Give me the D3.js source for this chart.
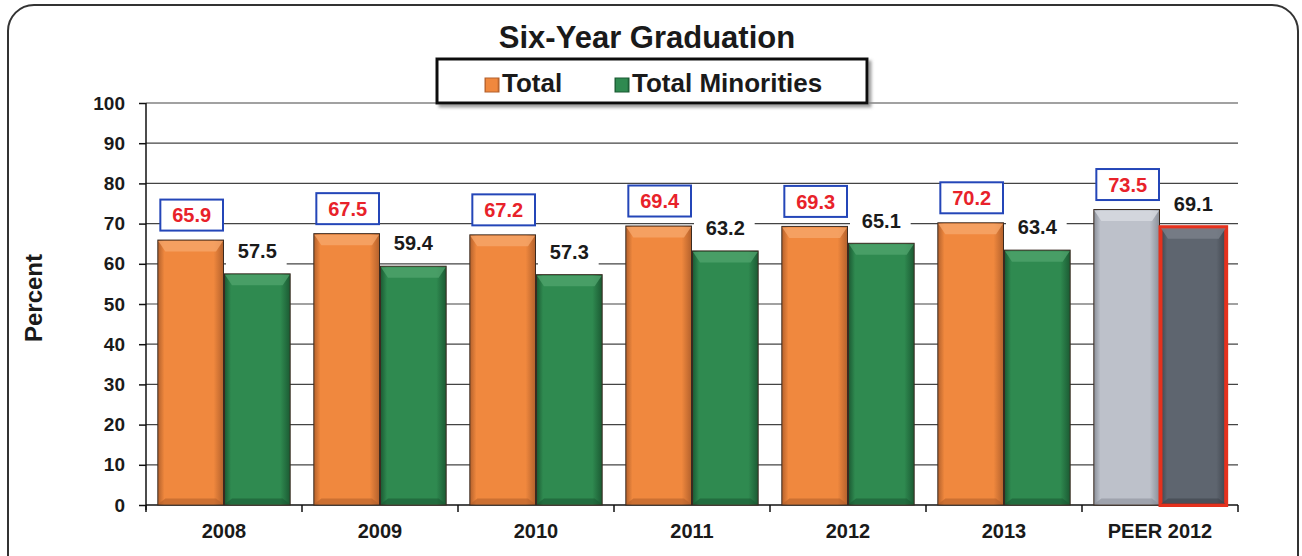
<!DOCTYPE html>
<html lang="en">
<head>
<meta charset="utf-8">
<title>Six-Year Graduation</title>
<script src="https://d3js.org/d3.v7.min.js"></script>
<style>
  body { margin: 0; background: #fff; }
  text { font-family: "Liberation Sans", Arial, sans-serif; font-weight: bold; }
</style>
</head>
<body>
<script>
// data
var years = ["2008", "2009", "2010", "2011", "2012", "2013", "PEER 2012"];
var total = [65.9, 67.5, 67.2, 69.4, 69.3, 70.2, 73.5];
var minorities = [57.5, 59.4, 57.3, 63.2, 65.1, 63.4, 69.1];
var yTicks = [0, 10, 20, 30, 40, 50, 60, 70, 80, 90, 100];
var seriesNames = ["Total", "Total Minorities"];

var width = 1302, height = 556;
var plot = { left: 146, right: 1238, top: 103, bottom: 505 };

var svg = d3.select("body").append("svg")
    .attr("width", width)
    .attr("height", height);

var defs = svg.append("defs");

// colours for each bar style: base, light edge, dark edge
var palette = {
  orange: { base: "#F0883E", light: "#F6A66A", dark: "#B4612C" },
  green:  { base: "#2F8A50", light: "#4FA36C", dark: "#1B5A33" },
  silver: { base: "#BDC1CA", light: "#D8DBE1", dark: "#8A8F99" },
  slate:  { base: "#5E656F", light: "#7A818B", dark: "#3E434B" }
};

Object.keys(palette).forEach(function(k) {
  var p = palette[k];
  var g = defs.append("linearGradient").attr("id", "g-" + k)
      .attr("x1", "0").attr("x2", "1").attr("y1", "0").attr("y2", "0");
  g.append("stop").attr("offset", "0%").attr("stop-color", p.dark);
  g.append("stop").attr("offset", "10%").attr("stop-color", p.base);
  g.append("stop").attr("offset", "85%").attr("stop-color", p.base);
  g.append("stop").attr("offset", "100%").attr("stop-color", p.dark);
});

var shadow = defs.append("filter").attr("id", "shadow")
    .attr("x", "-10%").attr("y", "-10%").attr("width", "130%").attr("height", "150%");
shadow.append("feDropShadow").attr("dx", 3).attr("dy", 3).attr("stdDeviation", 1.5)
    .attr("flood-color", "#888").attr("flood-opacity", 0.8);

// outer rounded frame
svg.append("rect")
    .attr("x", 8).attr("y", 5)
    .attr("width", 1290).attr("height", 640)
    .attr("rx", 26)
    .attr("fill", "none")
    .attr("stroke", "#333")
    .attr("stroke-width", 2);

var x0 = d3.scaleBand()
    .domain(years)
    .range([plot.left, plot.right]);

var x1 = d3.scaleBand()
    .domain(["total", "minorities"])
    .range([0, x0.bandwidth()])
    .paddingOuter(0.17)
    .paddingInner(0);

var y = d3.scaleLinear()
    .domain([0, 100])
    .range([plot.bottom, plot.top]);

// gridlines
svg.append("g")
    .selectAll("line")
    .data(yTicks.filter(function(d) { return d > 0; }))
    .enter().append("line")
    .attr("x1", plot.left).attr("x2", plot.right)
    .attr("y1", function(d) { return y(d); })
    .attr("y2", function(d) { return y(d); })
    .attr("stroke", "#444")
    .attr("stroke-width", 1.2);

// y axis
var yAxis = svg.append("g")
    .attr("transform", "translate(" + plot.left + ",0)")
    .call(d3.axisLeft(y).tickValues(yTicks).tickSize(7).tickPadding(14));
yAxis.select(".domain").attr("stroke", "#111").attr("stroke-width", 1.5)
    .attr("d", "M0," + (plot.top) + "V" + (plot.bottom + 5));
yAxis.selectAll(".tick line").attr("stroke", "#111").attr("stroke-width", 1.5);
yAxis.selectAll("text").style("font-size", "19px").attr("fill", "#1a1a1a");

// x axis
var xAxis = svg.append("g")
    .attr("transform", "translate(0," + plot.bottom + ")");
xAxis.append("line")
    .attr("x1", plot.left).attr("x2", plot.right)
    .attr("stroke", "#111").attr("stroke-width", 1.5);
xAxis.selectAll(".sep")
    .data(years.concat(["end"]))
    .enter().append("line")
    .attr("class", "sep")
    .attr("x1", function(d, i) { return plot.left + i * x0.bandwidth(); })
    .attr("x2", function(d, i) { return plot.left + i * x0.bandwidth(); })
    .attr("y1", 0).attr("y2", 7)
    .attr("stroke", "#111").attr("stroke-width", 1.5);
xAxis.selectAll(".lbl")
    .data(years)
    .enter().append("text")
    .attr("class", "lbl")
    .attr("x", function(d) { return x0(d) + x0.bandwidth() / 2; })
    .attr("y", 33)
    .attr("text-anchor", "middle")
    .style("font-size", "20px")
    .attr("fill", "#1a1a1a")
    .text(function(d) { return d; });

// bars
var rows = [];
years.forEach(function(yr, i) {
  var peer = yr.indexOf("PEER") === 0;
  rows.push({ year: yr, key: "total", value: total[i], style: peer ? "silver" : "orange", peer: peer });
  rows.push({ year: yr, key: "minorities", value: minorities[i], style: peer ? "slate" : "green", peer: peer });
});

var bev = 7;
var bars = svg.append("g").selectAll("g")
    .data(rows)
    .enter().append("g")
    .attr("transform", function(d) { return "translate(" + (x0(d.year) + x1(d.key)) + ",0)"; });

var bw = x1.bandwidth();

bars.append("rect")
    .attr("x", 0.5)
    .attr("y", function(d) { return y(d.value); })
    .attr("width", bw - 1)
    .attr("height", function(d) { return y(0) - y(d.value); })
    .attr("fill", function(d) { return "url(#g-" + d.style + ")"; })
    .attr("stroke", function(d) { return d.style === "slate" ? "#E5311D" : "#3a2a20"; })
    .attr("stroke-width", function(d) { return d.style === "slate" ? 4 : 1; });

// top bevel
bars.append("path")
    .attr("d", function(d) {
      var t = y(d.value) + 1;
      return "M1," + t + "H" + (bw - 1) + "L" + (bw - 1 - bev) + "," + (t + bev * 1.5) +
             "H" + (1 + bev) + "Z";
    })
    .attr("fill", function(d) { return palette[d.style].light; })
    .attr("opacity", 0.8);

// bottom bevel
bars.append("path")
    .attr("d", function(d) {
      var b = y(0) - 1;
      return "M1," + b + "H" + (bw - 1) + "L" + (bw - 1 - bev) + "," + (b - bev * 0.8) +
             "H" + (1 + bev) + "Z";
    })
    .attr("fill", function(d) { return palette[d.style].dark; })
    .attr("opacity", 0.6);

// value labels
var labelsTotal = svg.append("g").selectAll("g")
    .data(rows.filter(function(d) { return d.key === "total"; }))
    .enter().append("g")
    .attr("transform", function(d) {
      return "translate(" + (x0(d.year) + x1(d.key) + bw / 2 + 1) + "," + (y(d.value) - 25) + ")";
    });
labelsTotal.append("rect")
    .attr("x", -bw / 2 + 2).attr("y", -15.5)
    .attr("width", bw - 4).attr("height", 31)
    .attr("fill", "#fff")
    .attr("stroke", "#2446B8")
    .attr("stroke-width", 2);
labelsTotal.append("text")
    .attr("text-anchor", "middle")
    .attr("dy", "0.36em")
    .style("font-size", "20px")
    .attr("fill", "#E8222A")
    .text(function(d) { return d.value.toFixed(1); });

var labelsMin = svg.append("g").selectAll("g")
    .data(rows.filter(function(d) { return d.key === "minorities"; }))
    .enter().append("g")
    .attr("transform", function(d) {
      return "translate(" + (x0(d.year) + x1(d.key) + bw / 2) + "," + (y(d.value) - 23) + ")";
    });
labelsMin.append("rect")
    .attr("x", -bw / 2 + 2).attr("y", -15)
    .attr("width", bw - 6).attr("height", 30)
    .attr("fill", "#fff");
labelsMin.append("text")
    .attr("text-anchor", "middle")
    .attr("dy", "0.36em")
    .style("font-size", "20px")
    .attr("fill", "#1a1a1a")
    .text(function(d) { return d.value.toFixed(1); });

// title
svg.append("text")
    .attr("x", 647).attr("y", 48)
    .attr("text-anchor", "middle")
    .style("font-size", "31px")
    .attr("fill", "#1a1a1a")
    .text("Six-Year Graduation");

// legend
var legend = svg.append("g");
legend.append("rect")
    .attr("x", 437).attr("y", 59)
    .attr("width", 430).attr("height", 44)
    .attr("fill", "#fff")
    .attr("stroke", "#111")
    .attr("stroke-width", 3)
    .attr("filter", "url(#shadow)");
var legendX = [485, 615];
var legendStyle = ["orange", "green"];
var items = legend.selectAll(".item")
    .data(seriesNames)
    .enter().append("g")
    .attr("class", "item")
    .attr("transform", function(d, i) { return "translate(" + legendX[i] + ",84)"; });
items.append("rect")
    .attr("x", 0).attr("y", -6)
    .attr("width", 14).attr("height", 14)
    .attr("fill", function(d, i) { return "url(#g-" + legendStyle[i] + ")"; })
    .attr("stroke", function(d, i) { return palette[legendStyle[i]].dark; });
items.append("text")
    .attr("x", 17)
    .attr("y", 8)
    .style("font-size", "26px")
    .attr("fill", "#1a1a1a")
    .text(function(d) { return d; });

// y axis title
svg.append("text")
    .attr("transform", "translate(42,298) rotate(-90)")
    .attr("text-anchor", "middle")
    .style("font-size", "24px")
    .attr("fill", "#1a1a1a")
    .text("Percent");
</script>
</body>
</html>
